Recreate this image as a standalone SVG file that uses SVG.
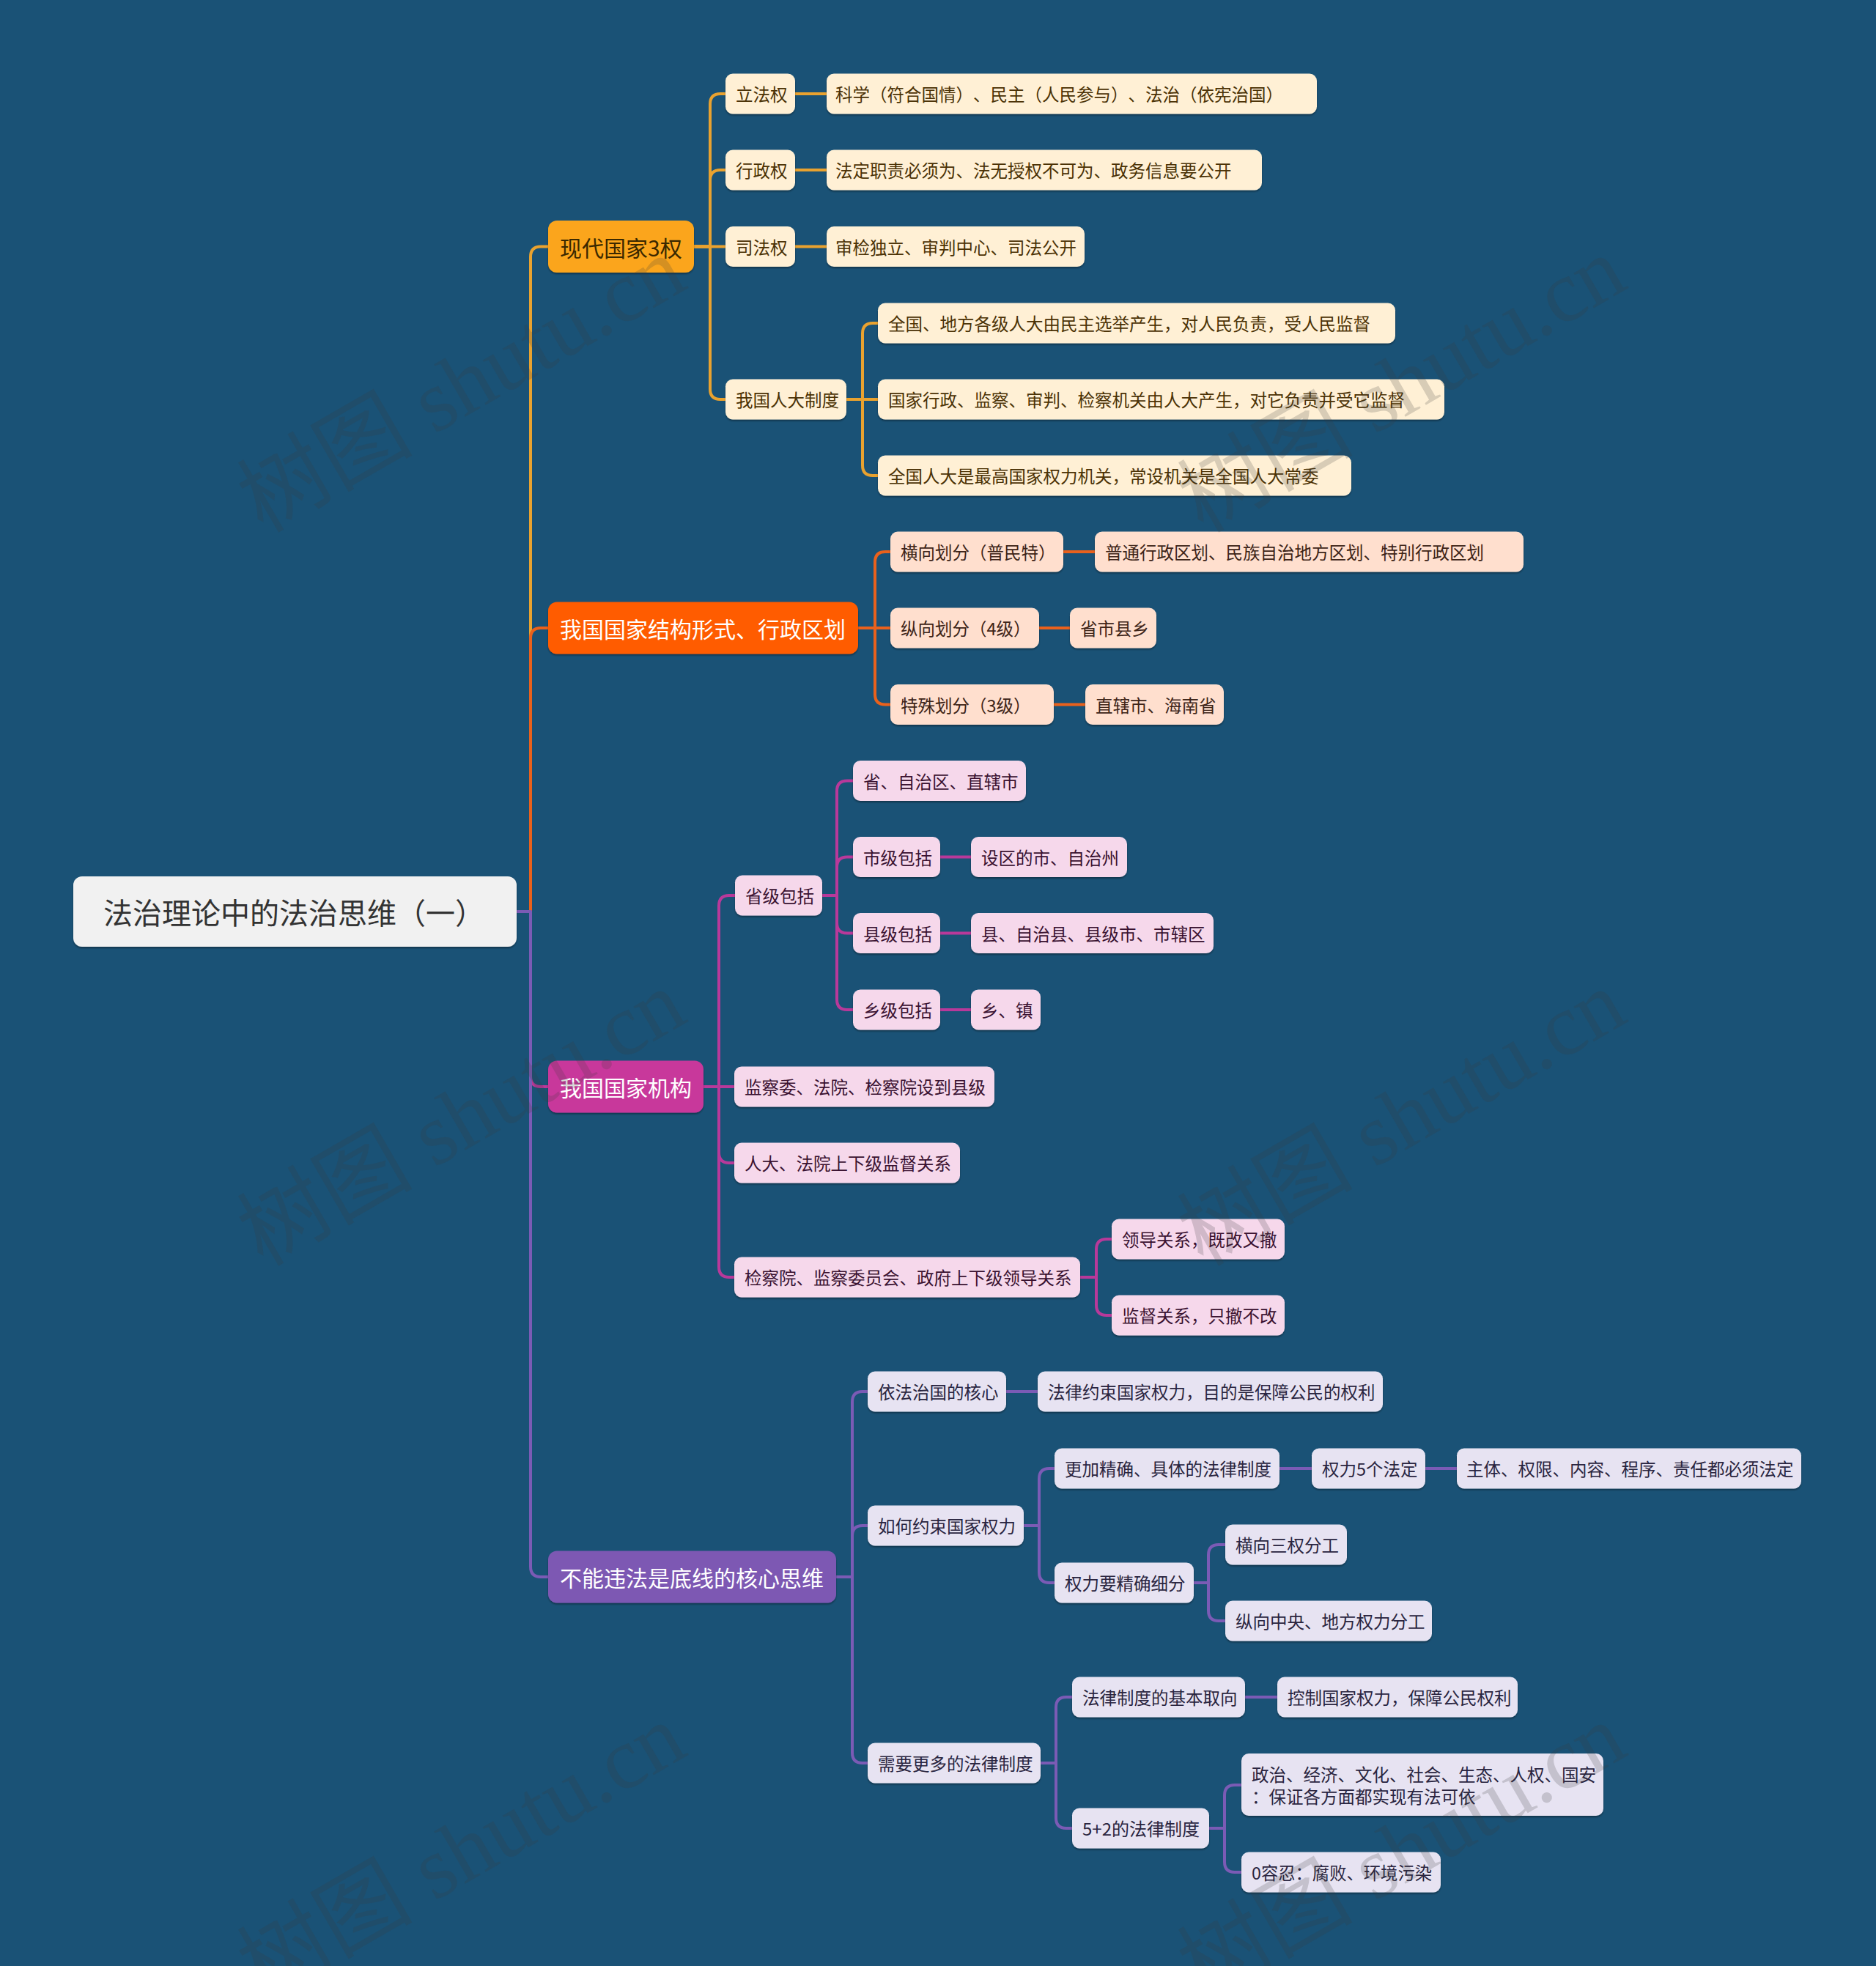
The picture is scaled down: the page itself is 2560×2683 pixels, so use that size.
<svg xmlns="http://www.w3.org/2000/svg" width="2560" height="2683" viewBox="0 0 2560 2683">
<defs>
<filter id="sh" x="-5%" y="-20%" width="110%" height="150%">
<feDropShadow dx="0" dy="2" stdDeviation="1.2" flood-color="#000" flood-opacity="0.35"/>
</filter>
</defs>
<style>
text{font-family:"Noto Sans CJK SC","Noto Sans",sans-serif;dominant-baseline:central;text-spacing-trim:space-all}
.t{font-size:23.5px}
.t1{font-size:30px}
.c{fill:none;stroke-width:4;stroke-linejoin:round;stroke-linecap:round}
.c1{stroke:#E9A22F}.c2{stroke:#E9611C}.c3{stroke:#B8399A}.c4{stroke:#7B5BB5}
.b1 rect{fill:#FFF0D5}.b1 text{fill:#4B3205}
.b2 rect{fill:#FFDFCE}.b2 text{fill:#3D2418}
.b3 rect{fill:#F6D8EB}.b3 text{fill:#3A1231}
.b4 rect{fill:#E7E3F2}.b4 text{fill:#2A2540}
rect{filter:url(#sh)}
.wm{font-family:"Liberation Serif","Noto Sans CJK SC",serif;font-size:120px;fill:#3a3a3a;fill-opacity:0.2;text-anchor:middle;dominant-baseline:alphabetic}
</style>
<rect x="0" y="0" width="2560" height="2683" fill="#1A5276" style="filter:none"/>

<g id="connectors">
<g class="c c1">
<path d="M705 1244 H724 V350.5 Q724 336.5 738 336.5 H748"/>
<path d="M947 336.5 H969 V142 Q969 128 983 128 H990"/>
<path d="M947 336.5 H969 V246 Q969 232 983 232 H990"/>
<path d="M947 336.5 H990"/>
<path d="M947 336.5 H969 V531 Q969 545 983 545 H990"/>
<path d="M1085 128 H1128"/>
<path d="M1085 232 H1128"/>
<path d="M1085 336.5 H1128"/>
<path d="M1155 545 H1177 V455 Q1177 441 1191 441 H1198"/>
<path d="M1155 545 H1198"/>
<path d="M1155 545 H1177 V635 Q1177 649 1191 649 H1198"/>
</g>
<g class="c c2">
<path d="M705 1244 H724 V871 Q724 857 738 857 H748"/>
<path d="M1171 857 H1194 V767 Q1194 753 1208 753 H1215"/>
<path d="M1171 857 H1215"/>
<path d="M1171 857 H1194 V947.5 Q1194 961.5 1208 961.5 H1215"/>
<path d="M1451 753 H1494"/>
<path d="M1418 857 H1460"/>
<path d="M1438 961.5 H1481"/>
</g>
<g class="c c3">
<path d="M705 1244 H724 V1469 Q724 1483 738 1483 H748"/>
<path d="M960 1483 H981 V1236 Q981 1222 995 1222 H1003"/>
<path d="M960 1483 H1002"/>
<path d="M960 1483 H981 V1573 Q981 1587 995 1587 H1002"/>
<path d="M960 1483 H981 V1729 Q981 1743 995 1743 H1002"/>
<path d="M1122 1222 H1142 V1079.5 Q1142 1065.5 1156 1065.5 H1164"/>
<path d="M1122 1222 H1142 V1183.5 Q1142 1169.5 1156 1169.5 H1164"/>
<path d="M1122 1222 H1142 V1259.5 Q1142 1273.5 1156 1273.5 H1164"/>
<path d="M1122 1222 H1142 V1364 Q1142 1378 1156 1378 H1164"/>
<path d="M1283 1169.5 H1325"/>
<path d="M1283 1273.5 H1325"/>
<path d="M1283 1378 H1325"/>
<path d="M1474 1743 H1496 V1705 Q1496 1691 1510 1691 H1517"/>
<path d="M1474 1743 H1496 V1781 Q1496 1795 1510 1795 H1517"/>
</g>
<g class="c c4">
<path d="M705 1244 H724 V2138 Q724 2152 738 2152 H748"/>
<path d="M1141 2152 H1163 V1913 Q1163 1899 1177 1899 H1184"/>
<path d="M1141 2152 H1163 V2096 Q1163 2082 1177 2082 H1184"/>
<path d="M1141 2152 H1163 V2392 Q1163 2406 1177 2406 H1184"/>
<path d="M1373 1899 H1416"/>
<path d="M1397 2082 H1418 V2018 Q1418 2004 1432 2004 H1439"/>
<path d="M1397 2082 H1418 V2146 Q1418 2160 1432 2160 H1439"/>
<path d="M1746 2004 H1790"/>
<path d="M1945 2004 H1988"/>
<path d="M1629 2160 H1649 V2122 Q1649 2108 1663 2108 H1672"/>
<path d="M1629 2160 H1649 V2198 Q1649 2212 1663 2212 H1672"/>
<path d="M1420 2406 H1441 V2330 Q1441 2316 1455 2316 H1463"/>
<path d="M1420 2406 H1441 V2481 Q1441 2495 1455 2495 H1463"/>
<path d="M1699 2316 H1743"/>
<path d="M1650 2495 H1671 V2450 Q1671 2436 1685 2436 H1694"/>
<path d="M1650 2495 H1671 V2541 Q1671 2555 1685 2555 H1694"/>
</g>
</g>

<g id="root">
<rect x="100" y="1196" width="605" height="96" rx="12" fill="#F1F1F1"/>
<text x="141" y="1244" style="font-size:40px" fill="#333333">法治理论中的法治思维（一）</text>
</g>

<g id="n-b1">
<rect x="748" y="301" width="199" height="71" rx="12" fill="#FBA51D"/>
<text class="t1" x="764" y="336.5" fill="#3A2800">现代国家3权</text>
</g>
<g id="n-b2">
<rect x="748" y="821.5" width="423" height="71" rx="12" fill="#FF5B03"/>
<text class="t1" x="764" y="857" fill="#FFFFFF">我国国家结构形式、行政区划</text>
</g>
<g id="n-b3">
<rect x="748" y="1447.5" width="212" height="71" rx="12" fill="#C8379B"/>
<text class="t1" x="764" y="1483" fill="#FFFFFF">我国国家机构</text>
</g>
<g id="n-b4">
<rect x="748" y="2116.5" width="393" height="71" rx="12" fill="#7D59B3"/>
<text class="t1" x="764" y="2152" fill="#FFFFFF">不能违法是底线的核心思维</text>
</g>

<g class="b1">
<g id="n-lifa"><rect x="990" y="100.5" width="95" height="55" rx="10"/><text class="t" x="1004" y="128">立法权</text></g>
<g id="n-xingzheng"><rect x="990" y="204.5" width="95" height="55" rx="10"/><text class="t" x="1004" y="232">行政权</text></g>
<g id="n-sifa"><rect x="990" y="309" width="95" height="55" rx="10"/><text class="t" x="1004" y="336.5">司法权</text></g>
<g id="n-renda"><rect x="990" y="517.5" width="165" height="55" rx="10"/><text class="t" x="1004" y="545">我国人大制度</text></g>
<g id="n-kexue"><rect x="1128" y="100.5" width="669" height="55" rx="10"/><text class="t" x="1140" y="128">科学（符合国情）、民主（人民参与）、法治（依宪治国）</text></g>
<g id="n-fading"><rect x="1128" y="204.5" width="594" height="55" rx="10"/><text class="t" x="1140" y="232">法定职责必须为、法无授权不可为、政务信息要公开</text></g>
<g id="n-shenjian"><rect x="1128" y="309" width="352" height="55" rx="10"/><text class="t" x="1140" y="336.5">审检独立、审判中心、司法公开</text></g>
<g id="n-quanguo1"><rect x="1198" y="413.5" width="706" height="55" rx="10"/><text class="t" x="1212" y="441">全国、地方各级人大由民主选举产生，对人民负责，受人民监督</text></g>
<g id="n-guojia"><rect x="1198" y="517.5" width="773" height="55" rx="10"/><text class="t" x="1212" y="545">国家行政、监察、审判、检察机关由人大产生，对它负责并受它监督</text></g>
<g id="n-quanguo2"><rect x="1198" y="621.5" width="646" height="55" rx="10"/><text class="t" x="1212" y="649">全国人大是最高国家权力机关，常设机关是全国人大常委</text></g>
</g>

<g class="b2">
<g id="n-hengxiang"><rect x="1215" y="725.5" width="236" height="55" rx="10"/><text class="t" x="1229" y="753">横向划分（普民特）</text></g>
<g id="n-zongxiang"><rect x="1215" y="829.5" width="203" height="55" rx="10"/><text class="t" x="1229" y="857">纵向划分（4级）</text></g>
<g id="n-teshu"><rect x="1215" y="934" width="223" height="55" rx="10"/><text class="t" x="1229" y="961.5">特殊划分（3级）</text></g>
<g id="n-putong"><rect x="1494" y="725.5" width="585" height="55" rx="10"/><text class="t" x="1508" y="753">普通行政区划、民族自治地方区划、特别行政区划</text></g>
<g id="n-sheng4"><rect x="1460" y="829.5" width="118" height="55" rx="10"/><text class="t" x="1474" y="857">省市县乡</text></g>
<g id="n-zhixia"><rect x="1481" y="934" width="189" height="55" rx="10"/><text class="t" x="1495" y="961.5">直辖市、海南省</text></g>
</g>

<g class="b3">
<g id="n-shengji"><rect x="1003" y="1194.5" width="119" height="55" rx="10"/><text class="t" x="1017" y="1222">省级包括</text></g>
<g id="n-jianchawei"><rect x="1002" y="1455.5" width="355" height="55" rx="10"/><text class="t" x="1016" y="1483">监察委、法院、检察院设到县级</text></g>
<g id="n-renda2"><rect x="1002" y="1559.5" width="308" height="55" rx="10"/><text class="t" x="1016" y="1587">人大、法院上下级监督关系</text></g>
<g id="n-jianchayuan"><rect x="1002" y="1715.5" width="472" height="55" rx="10"/><text class="t" x="1016" y="1743">检察院、监察委员会、政府上下级领导关系</text></g>
<g id="n-sheng"><rect x="1164" y="1038" width="236" height="55" rx="10"/><text class="t" x="1178" y="1065.5">省、自治区、直辖市</text></g>
<g id="n-shiji"><rect x="1164" y="1142" width="119" height="55" rx="10"/><text class="t" x="1178" y="1169.5">市级包括</text></g>
<g id="n-xianji"><rect x="1164" y="1246" width="119" height="55" rx="10"/><text class="t" x="1178" y="1273.5">县级包括</text></g>
<g id="n-xiangji"><rect x="1164" y="1350.5" width="119" height="55" rx="10"/><text class="t" x="1178" y="1378">乡级包括</text></g>
<g id="n-shequ"><rect x="1325" y="1142" width="213" height="55" rx="10"/><text class="t" x="1339" y="1169.5">设区的市、自治州</text></g>
<g id="n-xian"><rect x="1325" y="1246" width="331" height="55" rx="10"/><text class="t" x="1339" y="1273.5">县、自治县、县级市、市辖区</text></g>
<g id="n-xiang"><rect x="1325" y="1350.5" width="95" height="55" rx="10"/><text class="t" x="1339" y="1378">乡、镇</text></g>
<g id="n-lingdao"><rect x="1517" y="1663.5" width="236" height="55" rx="10"/><text class="t" x="1531" y="1691">领导关系，既改又撤</text></g>
<g id="n-jiandu"><rect x="1517" y="1767.5" width="236" height="55" rx="10"/><text class="t" x="1531" y="1795">监督关系，只撤不改</text></g>
</g>

<g class="b4">
<g id="n-yifa"><rect x="1184" y="1871.5" width="189" height="55" rx="10"/><text class="t" x="1198" y="1899">依法治国的核心</text></g>
<g id="n-ruhe"><rect x="1184" y="2054.5" width="213" height="55" rx="10"/><text class="t" x="1198" y="2082">如何约束国家权力</text></g>
<g id="n-xuyao"><rect x="1184" y="2378.5" width="236" height="55" rx="10"/><text class="t" x="1198" y="2406">需要更多的法律制度</text></g>
<g id="n-falv"><rect x="1416" y="1871.5" width="471" height="55" rx="10"/><text class="t" x="1430" y="1899">法律约束国家权力，目的是保障公民的权利</text></g>
<g id="n-gengjia"><rect x="1439" y="1976.5" width="307" height="55" rx="10"/><text class="t" x="1453" y="2004">更加精确、具体的法律制度</text></g>
<g id="n-xifen"><rect x="1439" y="2132.5" width="190" height="55" rx="10"/><text class="t" x="1453" y="2160">权力要精确细分</text></g>
<g id="n-wuge"><rect x="1790" y="1976.5" width="155" height="55" rx="10"/><text class="t" x="1804" y="2004">权力5个法定</text></g>
<g id="n-zhuti"><rect x="1988" y="1976.5" width="470" height="55" rx="10"/><text class="t" x="2001" y="2004">主体、权限、内容、程序、责任都必须法定</text></g>
<g id="n-heng3"><rect x="1672" y="2080.5" width="166" height="55" rx="10"/><text class="t" x="1686" y="2108">横向三权分工</text></g>
<g id="n-zong"><rect x="1672" y="2184.5" width="282" height="55" rx="10"/><text class="t" x="1686" y="2212">纵向中央、地方权力分工</text></g>
<g id="n-quxiang"><rect x="1463" y="2288.5" width="236" height="55" rx="10"/><text class="t" x="1477" y="2316">法律制度的基本取向</text></g>
<g id="n-kongzhi"><rect x="1743" y="2288.5" width="328" height="55" rx="10"/><text class="t" x="1757" y="2316">控制国家权力，保障公民权利</text></g>
<g id="n-52"><rect x="1463" y="2467.5" width="187" height="55" rx="10"/><text class="t" x="1477" y="2495" textLength="160" lengthAdjust="spacingAndGlyphs">5+2的法律制度</text></g>
<g id="n-zhengzhi"><rect x="1694" y="2393" width="494" height="85" rx="10"/><text class="t" x="1708" y="2421">政治、经济、文化、社会、生态、人权、国安</text><text class="t" x="1708" y="2451">：保证各方面都实现有法可依</text></g>
<g id="n-0"><rect x="1694" y="2527.5" width="272" height="55" rx="10"/><text class="t" x="1708" y="2555" textLength="246" lengthAdjust="spacingAndGlyphs">0容忍：腐败、环境污染</text></g>
</g>

<g id="watermarks">
<text class="wm" transform="translate(650 560) rotate(-30)">树图 shutu.cn</text>
<text class="wm" transform="translate(1933 560) rotate(-30)">树图 shutu.cn</text>
<text class="wm" transform="translate(650 1561) rotate(-30)">树图 shutu.cn</text>
<text class="wm" transform="translate(1933 1561) rotate(-30)">树图 shutu.cn</text>
<text class="wm" transform="translate(650 2562) rotate(-30)">树图 shutu.cn</text>
<text class="wm" transform="translate(1933 2562) rotate(-30)">树图 shutu.cn</text>
</g>
</svg>
